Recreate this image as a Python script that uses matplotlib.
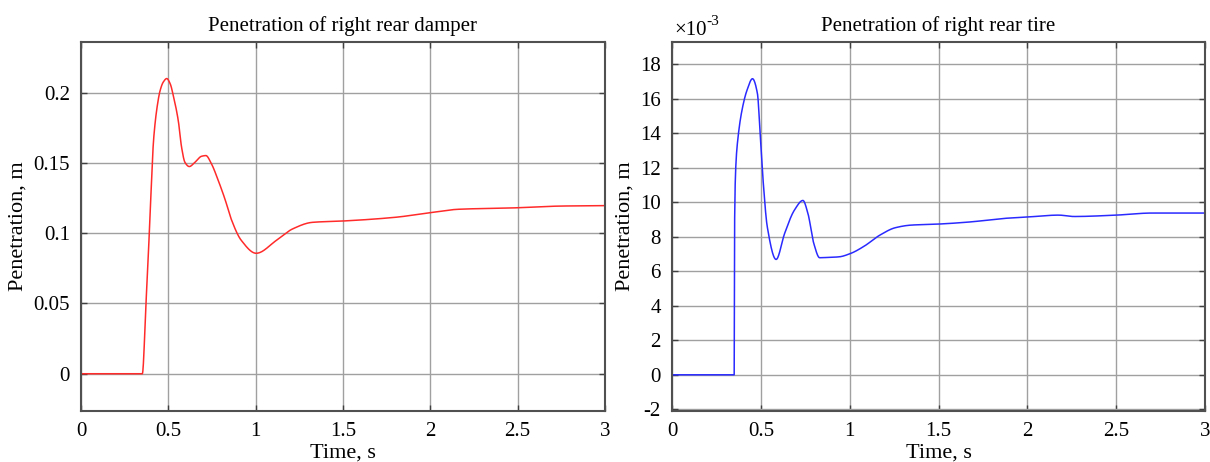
import numpy as np
import matplotlib

matplotlib.use("Agg")
import matplotlib.pyplot as plt  # noqa: E402

plt.rcParams["font.family"] = ["Liberation Serif", "DejaVu Serif"]
plt.rcParams["mathtext.fontset"] = "stix"

# Damper penetration [m] vs time [s]
damper_t = [0.0, 0.351, 0.372, 0.391, 0.402, 0.414, 0.424, 0.436, 0.452, 0.471,
            0.491, 0.510, 0.530, 0.557, 0.576, 0.595, 0.620, 0.652, 0.690, 0.715,
            0.747, 0.786, 0.824, 0.860, 0.917, 1.003, 1.120, 1.211, 1.324, 1.506,
            1.800, 2.000, 2.160, 2.480, 2.750, 3.0]
damper_v = [0.0, 0.0, 0.050, 0.100, 0.132, 0.1636, 0.178, 0.190, 0.201, 0.2075,
            0.210, 0.2065, 0.197, 0.180, 0.161, 0.1504, 0.1474, 0.1504, 0.1547, 0.1552,
            0.1493, 0.1374, 0.1243, 0.110, 0.095, 0.0857, 0.095, 0.103, 0.1077, 0.1087,
            0.1113, 0.1146, 0.117, 0.118, 0.1193, 0.1196]

# Tire penetration [x1e-3 m] vs time [s]
tire_t = [0.0, 0.350, 0.352, 0.359, 0.372, 0.394, 0.422, 0.453, 0.481, 0.496,
          0.514, 0.536, 0.586, 0.634, 0.689, 0.737, 0.765, 0.798, 0.831, 0.864,
          0.940, 1.006, 1.082, 1.170, 1.257, 1.345, 1.498, 1.673, 1.870, 2.000,
          2.176, 2.263, 2.500, 2.700, 3.0]
tire_v = [0.0, 0.0, 8.4, 12.06, 13.8, 15.35, 16.5, 17.17, 16.3, 14.0,
          11.1, 8.6, 6.69, 8.2, 9.55, 10.11, 9.36, 7.62, 6.79, 6.80,
          6.84, 7.04, 7.46, 8.10, 8.53, 8.68, 8.74, 8.86, 9.07, 9.15,
          9.26, 9.18, 9.26, 9.38, 9.38]

x_ticks = [0, 0.5, 1, 1.5, 2, 2.5, 3]
x_ticklabels = ["0", "0.5", "1", "1.5", "2", "2.5", "3"]
damper_yticks = [0, 0.05, 0.1, 0.15, 0.2]
damper_yticklabels = ["0", "0.05", "0.1", "0.15", "0.2"]
tire_yticks = list(range(-2, 19, 2))


def smooth(t, v, n=2000):
    t = np.asarray(t, float)
    v = np.asarray(v, float)
    tt = np.linspace(t[0], t[-1], n)
    tt = np.union1d(tt, t)
    h = np.diff(t)
    d = np.diff(v) / h
    m = np.zeros_like(v)
    for i in range(1, len(v) - 1):
        if d[i - 1] * d[i] > 0:
            w1 = 2 * h[i] + h[i - 1]
            w2 = h[i] + 2 * h[i - 1]
            m[i] = (w1 + w2) / (w1 / d[i - 1] + w2 / d[i])
    m[0] = d[0]
    m[-1] = d[-1]
    idx = np.clip(np.searchsorted(t, tt, side="right") - 1, 0, len(h) - 1)
    s = (tt - t[idx]) / h[idx]
    h00 = 2 * s**3 - 3 * s**2 + 1
    h10 = s**3 - 2 * s**2 + s
    h01 = -2 * s**3 + 3 * s**2
    h11 = s**3 - s**2
    yy = h00 * v[idx] + h10 * h[idx] * m[idx] + h01 * v[idx + 1] + h11 * h[idx] * m[idx + 1]
    return tt, yy


def style(ax):
    ax.set_xlim(0, 3)
    ax.set_xticks(x_ticks)
    ax.set_xticklabels(x_ticklabels)
    ax.grid(True, color="#a0a0a0", linewidth=1.0, linestyle="-")
    ax.set_axisbelow(True)
    ax.tick_params(direction="in", length=4, width=1, labelsize=15, pad=8,
                   top=True, right=True, color="#404040")
    for sp in ax.spines.values():
        sp.set_color("#505050")
        sp.set_linewidth(1.5)
    ax.set_xlabel("Time, s", fontsize=16, labelpad=2)
    ax.set_ylabel("Penetration, m", fontsize=16, labelpad=4)


fig = plt.figure(figsize=(12.1, 4.62), dpi=100)
ax1 = fig.add_axes([81 / 1210, 1 - 411 / 462, 524 / 1210, 369 / 462])
ax2 = fig.add_axes([672 / 1210, 1 - 411 / 462, 533 / 1210, 369 / 462])

tt, yy = smooth(damper_t, damper_v)
ax1.plot(tt, yy, color="#ff2a2a", linewidth=1.1)
style(ax1)
ax1.set_ylim(-0.0265, 0.236)
ax1.set_yticks(damper_yticks)
ax1.set_yticklabels(damper_yticklabels)
ax1.set_title("Penetration of right rear damper", fontsize=15, pad=8)

tt, yy = smooth(tire_t, tire_v)
ax2.plot(tt, yy, color="#2a2aff", linewidth=1.1)
style(ax2)
ax2.set_ylim(-2.1, 19.3)
ax2.set_yticks(tire_yticks)
ax2.set_yticklabels([str(v) for v in tire_yticks])
ax2.set_title("Penetration of right rear tire", fontsize=15, pad=8)

# multiplier shown above the axis, MATLAB style
ax2.text(0.004, 1.019, "×10", transform=ax2.transAxes, fontsize=15,
         ha="left", va="baseline")
ax2.text(0.064, 1.046, "-3", transform=ax2.transAxes, fontsize=11,
         ha="left", va="baseline")

fig.savefig("out.png", dpi=100)
